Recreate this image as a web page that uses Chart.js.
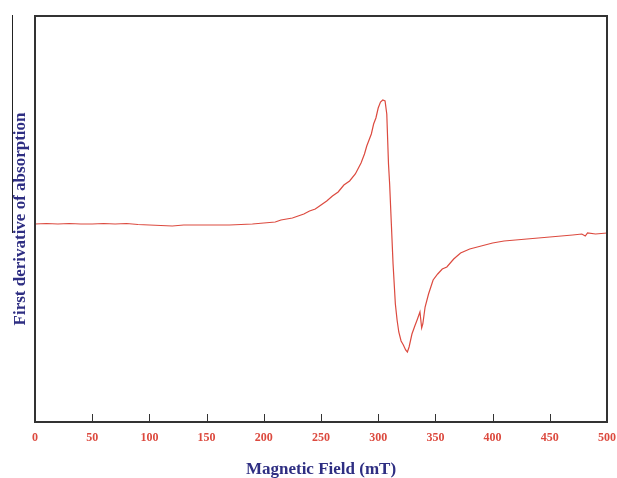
<!DOCTYPE html>
<html>
<head>
<meta charset="utf-8">
<script src="https://cdn.jsdelivr.net/npm/chart.js@4.4.1/dist/chart.umd.min.js"></script>
<style>
  html, body { margin: 0; padding: 0; background: #fff; }
  #wrap { width: 617px; height: 478px; }
</style>
</head>
<body>
<div id="wrap"><canvas id="epr"></canvas></div>
<script>
// magnetic field (mT) and first-derivative signal (arbitrary units)
const field = [0, 10, 20, 30, 40, 50, 60, 70, 80, 90, 100, 110, 120, 130, 140, 150, 160, 170, 180, 190,
  200, 210, 215, 220, 225, 230, 235, 240, 245, 250, 255, 260, 265, 270, 275, 280, 285, 288, 290, 292,
  294, 296, 298, 300, 302, 304, 306, 307.5, 309, 310, 311.5, 313, 315, 316.5, 318, 320, 322, 324, 325.5, 327,
  329.5, 332, 334, 336.5, 338, 339, 341, 344, 348, 352, 356, 360, 366, 372, 380, 390, 400, 410, 420, 430,
  440, 450, 460, 470, 478, 481, 483, 490, 500];
const signal = [0, 0.5, 0, 0.5, 0, 0, 0.5, 0, 0.5, -0.5, -1, -1.5, -2, -1, -1, -1, -1, -1, -0.5, 0,
  1, 2, 4, 5, 6, 8, 10, 13, 15, 19, 23, 28, 32, 39, 43, 50, 61, 70, 78, 84,
  90, 100, 106, 116, 122, 124, 123, 110, 60, 40, 0, -40, -80, -96, -108, -117, -121, -126, -128, -123,
  -110, -102, -96, -88, -104, -100, -83, -70, -56, -50, -45, -43, -35, -29, -25, -22, -19, -17, -16, -15,
  -14, -13, -12, -11, -10, -12, -9, -10, -9];
const xTicks = [0, 50, 100, 150, 200, 250, 300, 350, 400, 450, 500];

const navy = '#2e2e82';
const red = '#dc4a3f';

// box round the plot, inward ticks on the bottom axis, and the stray line at the left edge
const frame = {
  id: 'frame',
  afterDraw(chart) {
    const { ctx, chartArea: a, scales } = chart;
    ctx.save();
    ctx.strokeStyle = '#333';
    ctx.lineWidth = 2;
    ctx.strokeRect(a.left, a.top, a.right - a.left, a.bottom - a.top);
    ctx.lineWidth = 1;
    ctx.beginPath();
    xTicks.forEach(t => {
      if (t === 0 || t === 500) return;
      const x = Math.round(scales.x.getPixelForValue(t)) + 0.5;
      ctx.moveTo(x, a.bottom);
      ctx.lineTo(x, a.bottom - 8);
    });
    ctx.stroke();
    ctx.strokeStyle = '#222';
    ctx.beginPath();
    ctx.moveTo(12.5, 15);
    ctx.lineTo(12.5, 233);
    ctx.stroke();
    ctx.restore();
  }
};

new Chart(document.getElementById('epr'), {
  type: 'line',
  data: {
    datasets: [{
      data: field.map((f, i) => ({ x: f, y: signal[i] })),
      borderColor: red,
      borderWidth: 1.2,
      pointRadius: 0,
      tension: 0
    }]
  },
  options: {
    responsive: true,
    maintainAspectRatio: false,
    animation: false,
    layout: { padding: { top: 16, right: 10, left: 0, bottom: 0 } },
    plugins: { legend: { display: false }, tooltip: { enabled: false } },
    scales: {
      x: {
        type: 'linear',
        min: 0,
        max: 500,
        afterBuildTicks: s => { s.ticks = xTicks.map(v => ({ value: v })); },
        afterFit: s => { s.height = 56; s.paddingRight = 0; s.paddingLeft = 0; },
        grid: { drawOnChartArea: false, drawTicks: false, display: false },
        border: { display: false },
        ticks: {
          color: red,
          padding: 9,
          maxRotation: 0,
          font: { family: 'Liberation Serif', weight: 'bold', size: 12 }
        },
        title: {
          display: true,
          text: 'Magnetic Field (mT)',
          color: navy,
          padding: { top: 15, bottom: -2 },
          font: { family: 'Liberation Serif', weight: 'bold', size: 17 }
        }
      },
      y: {
        min: -198,
        max: 208,
        afterFit: s => { s.width = 35; },
        grid: { display: false },
        border: { display: false },
        ticks: { display: false },
        title: {
          display: true,
          text: 'First derivative of absorption',
          color: navy,
          padding: { top: 10, bottom: 0 },
          font: { family: 'Liberation Serif', weight: 'bold', size: 17 }
        }
      }
    }
  },
  plugins: [frame]
});
</script>
</body>
</html>
